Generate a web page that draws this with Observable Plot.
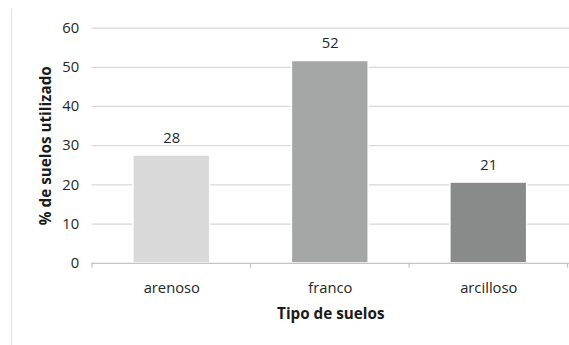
<!DOCTYPE html>
<html>
<head>
<meta charset="utf-8">
<script src="https://cdn.jsdelivr.net/npm/d3@7"></script>
<script src="https://cdn.jsdelivr.net/npm/@observablehq/plot@0.6"></script>
<style>
  html, body { margin: 0; padding: 0; background: #fff; overflow: hidden; width: 569px; height: 345px; }
  #chart { position: relative; width: 569px; height: 345px; overflow: hidden; }
  #frame { position: absolute; left: 11px; top: 9px; width: 1px; height: 340px; background: #e3e3e3; }
  svg { font-family: "Open Sans", "Noto Sans", sans-serif; }
</style>
</head>
<body>
<div id="chart"><div id="frame"></div></div>
<script>
const categories = ["arenoso", "franco", "arcilloso"];
const values = [27.5, 51.6, 20.6];
const labels = ["28", "52", "21"];
const colors = ["#d9d9d9", "#a5a7a7", "#898b8b"];
const yTicks = [0, 10, 20, 30, 40, 50, 60];

const data = categories.map((c, i) => ({cat: c, value: values[i], label: labels[i], color: colors[i]}));

const plot = Plot.plot({
  width: 578,
  height: 345,
  marginLeft: 93,
  marginRight: 0,
  marginTop: 28,
  marginBottom: 78,
  style: {fontSize: "14px", color: "#262626", background: "transparent"},
  x: {domain: categories, paddingInner: 0.515, paddingOuter: 0.26, label: null},
  y: {domain: [0, 60], label: null},
  marks: [
    Plot.ruleY(yTicks.filter(d => d > 0), {stroke: "#d9d9d9", strokeWidth: 1.3}),
    Plot.barY(data, {x: "cat", y: "value", fill: "color", stroke: "#fff", strokeWidth: 1.5}),
    Plot.ruleY([0], {stroke: "#c4c4c4", strokeWidth: 1.3}),
    Plot.text(data, {x: "cat", y: "value", text: "label", dy: -18, fontSize: 15, fill: "#262626"}),
    Plot.axisY(yTicks, {tickSize: 0, tickPadding: 13, fontSize: 15, fill: "#262626"}),
    Plot.axisX({tickSize: 0, tickPadding: 19, fontSize: 15, fill: "#262626"}),
    Plot.text(["% de suelos utilizado"], {
      frameAnchor: "left", textAnchor: "middle", dx: -47, rotate: -90, fontWeight: "bold", fontSize: 15.5, fill: "#1a1a1a"
    }),
    Plot.text(["Tipo de suelos"], {
      frameAnchor: "bottom", dy: 57, fontWeight: "bold", fontSize: 15.5, fill: "#1a1a1a"
    })
  ]
});

// band-boundary ticks on the category axis (drawn from the x scale)
const xs = plot.scale("x");
const ys = plot.scale("y");
const svg = d3.select(plot);
const y0 = ys.apply(0);
const gap = (xs.step - xs.bandwidth) / 2;
const bounds = categories.map(c => xs.apply(c) - gap).concat([xs.apply(categories[2]) + xs.bandwidth + gap]);
svg.append("g").selectAll("line").data(bounds).join("line")
  .attr("x1", d => d).attr("x2", d => d)
  .attr("y1", y0).attr("y2", y0 + 5)
  .attr("stroke", "#c4c4c4").attr("stroke-width", 1.3);

document.getElementById("chart").appendChild(plot);
</script>
</body>
</html>
